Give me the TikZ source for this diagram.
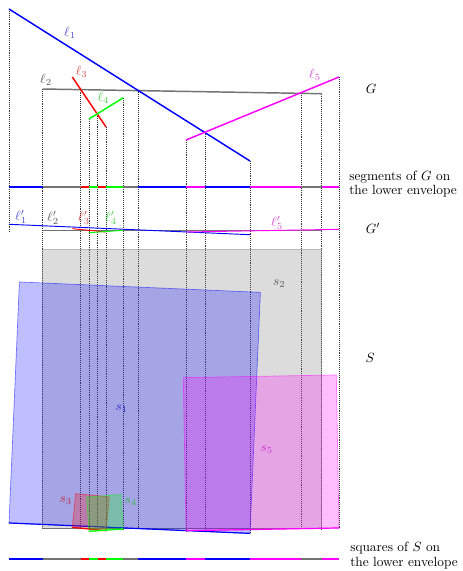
\documentclass[tikz,border=0pt]{standalone}
\usetikzlibrary{calc}
\colorlet{envgray}{black!55}
\definecolor{mag}{RGB}{255,0,255}
\begin{document}
\begin{tikzpicture}[
  x=0.75pt, y=-0.75pt,
  seg/.style={draw=#1, line width=1.1pt},
  segp/.style={draw=#1, line width=0.7pt},
  env/.style={draw=#1, line width=1.5pt},
  proj/.style={densely dotted, draw=black!80, line width=0.45pt},
  sq/.style={fill=#1, fill opacity=0.25, draw=#1, draw opacity=0.5, line width=0.5pt},
  lab/.style={text=#1!75!black, text opacity=0.7, inner sep=0pt},
  side/.style={align=left, anchor=west, inner sep=0pt, font=\fontsize{10}{10.7}\selectfont}
]
\useasboundingbox (0,0) rectangle (462,571);

% Segments of G
\coordinate (l1a) at (9,9);       \coordinate (l1b) at (250,161);
\coordinate (l2a) at (42.7,89);   \coordinate (l2b) at (321.7,93.7);
\coordinate (l3a) at (72.3,77);   \coordinate (l3b) at (106,127);
\coordinate (l4a) at (89,119);    \coordinate (l4b) at (123.3,97.7);
\coordinate (l5a) at (186,140);   \coordinate (l5b) at (339,77);

% Segments of G'
\coordinate (g1a) at (9,224.3);   \coordinate (g1b) at (250,234.7);
\coordinate (g2a) at (42.7,230);  \coordinate (g2b) at (321.7,230);
\coordinate (g3a) at (72.3,228.7);\coordinate (g3b) at (106,232);
\coordinate (g4a) at (89,232.7);  \coordinate (g4b) at (123.3,230.3);
\coordinate (g5a) at (186,232);   \coordinate (g5b) at (339,229.3);

% Projections (end points and crossings)
\foreach \x/\yt/\yb in {9/9/233, 42.7/89/529, 80.7/89.6/528, 89/119/531, 97.7/113.9/530,
  106/127/530.7, 123.3/97.7/529, 138/90.5/528.5, 186/140/530.7, 205.3/132.4/530,
  250/161/532.7, 301/93/529, 321.7/93.7/529, 339/77/528}{
  \draw[proj] (\x,\yt) -- (\x,\yb);
}

% Squares of S, bottom edge = shifted segment of G'
\foreach \i/\col in {2/envgray,1/blue,5/mag,3/red,4/green}{
  \coordinate (p\i) at ([yshift=-224pt]g\i a);
  \coordinate (q\i) at ([yshift=-224pt]g\i b);
  \coordinate (r\i) at ($(q\i)!1!-90:(p\i)$);
  \coordinate (t\i) at ($(p\i)!1!90:(q\i)$);
  \path[sq=\col] (p\i) -- (q\i) -- (r\i) -- (t\i) -- cycle;
  \draw[segp=\col, line width=0.9pt] (p\i) -- (q\i);
}

% G and G'
\foreach \i/\col in {2/envgray,1/blue,3/red,4/green,5/mag}{
  \draw[seg=\col] (l\i a) -- (l\i b);
  \draw[segp=\col] (g\i a) -- (g\i b);
}

% Lower envelopes
\foreach \xa/\xb/\col in {9/42.7/blue, 42.7/80.7/envgray, 80.7/89/red, 89/97.7/green,
  97.7/106/red, 106/123.3/green, 123.3/138/envgray, 138/186/blue, 186/205.3/mag,
  205.3/250/blue, 250/301/mag, 301/321.7/envgray, 321.7/339/mag}{
  \draw[env=\col] (\xa,186.5) -- (\xb,186.5);
  \draw[env=\col] (\xa,559) -- (\xb,559);
}

% Labels
\node[lab=blue] (n1) at (70,32.7) {$\ell_1$};
\node[text=black!65, inner sep=0pt] (n2) at (46,80) {$\ell_2$};
\node[lab=red] (n3) at (81.7,71.7) {$\ell_3$};
\node[lab=green] (n4) at (103.3,98) {$\ell_4$};
\node[lab=mag] (n5) at (315,75) {$\ell_5$};
\node[lab=blue] (m1) at (21,216.7) {$\ell'_1$};
\node[text=black!65, inner sep=0pt] (m2) at (53,218) {$\ell'_2$};
\node[lab=red] (m3) at (84,218) {$\ell'_3$};
\node[lab=green] (m4) at (111,218) {$\ell'_4$};
\node[lab=mag] (m5) at (277,223) {$\ell'_5$};
\node[lab=blue] (k1) at (121.7,408.3) {$s_1$};
\node[text=black!65, inner sep=0pt] (k2) at (279.3,283.3) {$s_2$};
\node[lab=red] (k3) at (65.7,501) {$s_3$};
\node[lab=green] (k4) at (130.7,501.3) {$s_4$};
\node[lab=mag] (k5) at (266.7,449.3) {$s_5$};

% Right column
\node (setG) at (371,89) {$G$};
\node[side] (envG) at (349,184) {segments of $G$ on\\the lower envelope};
\node (setGp) at (373,228.3) {$G'$};
\node (setS) at (370,358) {$S$};
\node[side] (envS) at (350,555.5) {squares of $S$ on\\the lower envelope};

\end{tikzpicture}
\end{document}
